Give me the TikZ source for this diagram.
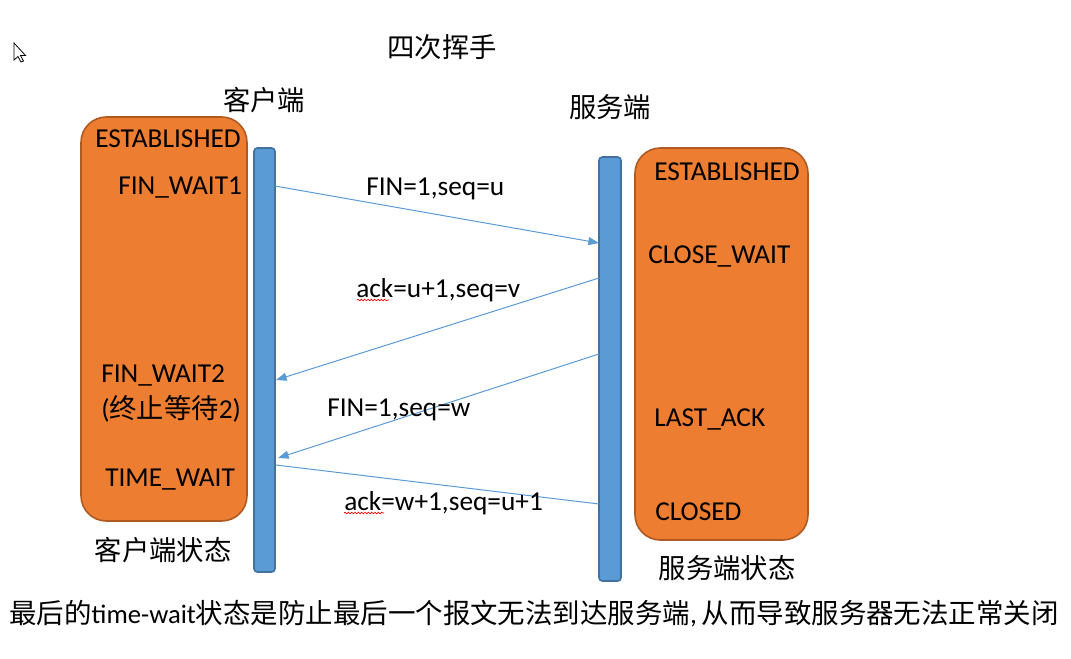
\documentclass[tikz,border=0pt]{standalone}
\usepackage{fontspec}
\setmainfont{Carlito}
\newfontfamily\cjk{Noto Sans CJK SC}
\usetikzlibrary{arrows.meta,decorations.pathmorphing}
\definecolor{orangefill}{HTML}{ED7D31}
\definecolor{orangeline}{HTML}{AE5A21}
\definecolor{bluefill}{HTML}{5B9BD5}
\definecolor{blueline}{HTML}{41719C}
\tikzset{
  statebox/.style={draw=orangeline, fill=orangefill, line width=1.2pt, rounded corners=19pt, inner sep=0pt},
  lifebar/.style={draw=blueline, fill=bluefill, line width=1.2pt, rounded corners=2.5pt, inner sep=0pt},
  txt/.style={font=\fontsize{20.5}{24}\selectfont, inner sep=0pt, text=black},
  lbl/.style={txt, anchor=base west},
  msg/.style={draw=bluefill, line width=0.75pt, -{Triangle[length=8pt,width=6pt]}},
  plainmsg/.style={draw=bluefill, line width=0.75pt},
  squiggle/.style={draw=red, line width=0.5pt, decorate, decoration={snake, amplitude=0.6pt, segment length=2.5pt}},
  cursorshape/.style={draw=black, fill=white, line width=0.6pt, line join=miter}
}
\begin{document}
\begin{tikzpicture}[x=0.75pt,y=-0.75pt]
\useasboundingbox (0,0) rectangle (1071,658);
% cursor
\draw[cursorshape] (14,43) -- (14,60) -- (18,56.5) -- (21,62) -- (23.5,61) -- (20.5,55.5) -- (25.5,55.5) -- cycle;

% boxes and bars
\node[statebox, minimum width=166*0.75pt, minimum height=404*0.75pt] (lbox) at (164,319) {};
\node[statebox, minimum width=173*0.75pt, minimum height=392*0.75pt] (rbox) at (721.5,344) {};
\node[lifebar, minimum width=21*0.75pt, minimum height=424*0.75pt] (lbar) at (264.5,360) {};
\node[lifebar, minimum width=22*0.75pt, minimum height=424*0.75pt] (rbar) at (610,369) {};

% titles
\node[txt] (title) at (442,47) {\cjk 四次挥手};
\node[txt] (client) at (264,100) {\cjk 客户端};
\node[txt] (server) at (610,107) {\cjk 服务端};
\node[txt] (clientst) at (163,550) {\cjk 客户端状态};
\node[txt] (serverst) at (727,568) {\cjk 服务端状态};

% client states
\node[lbl] (c1) at (95,147) {ESTABLISHED};
\node[lbl] (c2) at (118,194) {FIN\_WAIT1};
\node[lbl] (c3) at (101,382) {FIN\_WAIT2};
\node[lbl] (c4) at (101,418) {({\cjk 终止等待}2)};
\node[lbl] (c5) at (105,486) {TIME\_WAIT};

% server states
\node[lbl] (s1) at (654,180) {ESTABLISHED};
\node[lbl] (s2) at (648,263) {CLOSE\_WAIT};
\node[lbl] (s3) at (654,426) {LAST\_ACK};
\node[lbl] (s4) at (655,520) {CLOSED};

% message endpoints
\coordinate (a1s) at (275,186);
\coordinate (a1e) at (599,243);
\coordinate (a2s) at (599,278);
\coordinate (a2e) at (276,380);
\coordinate (a3s) at (599,354);
\coordinate (a3e) at (278,458);
\coordinate (a4s) at (276,465);
\coordinate (a4e) at (599,504);

\draw[msg] (a1s) -- (a1e);
\draw[msg] (a2s) -- (a2e);
\draw[msg] (a3s) -- (a3e);
\draw[plainmsg] (a4s) -- (a4e);

% message labels
\node[lbl] (m1) at (366,195) {FIN=1,seq=u};
\node[lbl] (m2) at (356,297) {ack=u+1,seq=v};
\node[lbl] (m3) at (327,416) {FIN=1,seq=w};
\node[lbl] (m4) at (344,510) {ack=w+1,seq=u+1};

% spell-check squiggles
\coordinate (q1s) at (357,300);
\coordinate (q1e) at (389,300);
\coordinate (q2s) at (344,513);
\coordinate (q2e) at (384,513);
\draw[squiggle] (q1s) -- (q1e);
\draw[squiggle] (q2s) -- (q2e);

% bottom note
\node[txt, anchor=west, font=\fontsize{20.6}{24}\selectfont] (note) at (9,614) {{\cjk 最后的}{\fontsize{20}{24}\selectfont time-wait}{\cjk 状态是防止最后一个报文无法到达服务端},\,{\cjk 从而导致服务器无法正常关闭}};
\end{tikzpicture}
\end{document}
